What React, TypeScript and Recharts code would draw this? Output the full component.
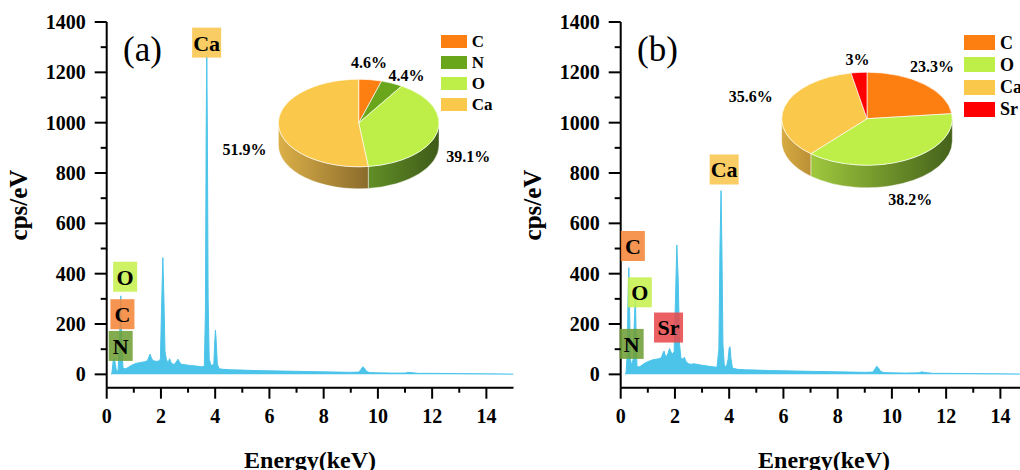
import React from 'react';
import { AreaChart, Area, XAxis, YAxis, ReferenceDot, PieChart, Pie, Legend } from 'recharts';

const FONT = "'Liberation Serif', 'Times New Roman', serif";

// ---------- spectrum (a) ----------
const energyA = [0.18, 0.2, 0.24, 0.28, 0.32, 0.36, 0.42, 0.47, 0.52, 0.56, 0.6, 0.7, 0.8, 0.9, 1.0, 1.1, 1.2, 1.3, 1.4, 1.5, 1.56, 1.6, 1.65, 1.7, 1.8, 1.9, 1.98, 2.02, 2.07, 2.11, 2.15, 2.2, 2.26, 2.32, 2.38, 2.45, 2.5, 2.58, 2.63, 2.68, 2.75, 2.9, 3.1, 3.3, 3.5, 3.6, 3.64, 3.67, 3.69, 3.71, 3.74, 3.78, 3.85, 3.95, 3.98, 4.01, 4.04, 4.08, 4.15, 4.3, 4.6, 5, 5.5, 6, 6.5, 7, 7.5, 8, 8.5, 9, 9.3, 9.38, 9.44, 9.5, 9.58, 9.7, 10, 10.5, 11, 11.15, 11.3, 11.5, 12, 13, 14, 15];
const cpsA = [0, 12, 55, 62, 40, 12, 15, 120, 312, 110, 25, 22, 28, 35, 40, 44, 46, 48, 50, 54, 70, 80, 65, 55, 52, 52, 60, 250, 464, 300, 90, 60, 45, 62, 45, 40, 40, 52, 60, 50, 40, 38, 35, 33, 30, 32, 250, 1000, 1265, 1000, 300, 60, 35, 40, 120, 176, 130, 40, 22, 20, 18, 17, 15, 14, 13, 12, 11, 10, 9, 8, 9, 20, 30, 25, 12, 7, 6, 5, 5, 8, 6, 4, 4, 3, 2, 1];

// ---------- spectrum (b) ----------
const energyB = [0.18, 0.2, 0.24, 0.27, 0.3, 0.33, 0.36, 0.4, 0.46, 0.5, 0.54, 0.57, 0.6, 0.7, 0.8, 0.9, 1.0, 1.1, 1.2, 1.3, 1.4, 1.5, 1.56, 1.6, 1.64, 1.7, 1.75, 1.8, 1.85, 1.9, 1.97, 2.02, 2.07, 2.12, 2.17, 2.22, 2.3, 2.35, 2.4, 2.5, 2.6, 2.7, 2.8, 3.0, 3.2, 3.4, 3.55, 3.62, 3.66, 3.7, 3.73, 3.77, 3.82, 3.9, 3.96, 4.0, 4.03, 4.07, 4.12, 4.3, 4.6, 5, 5.5, 6, 6.5, 7, 7.5, 8, 8.5, 9, 9.3, 9.38, 9.44, 9.5, 9.58, 9.7, 10, 10.5, 11, 11.1, 11.25, 11.5, 12, 13, 14, 15];
const cpsB = [0, 10, 80, 300, 424, 250, 60, 35, 60, 200, 320, 150, 30, 30, 38, 45, 50, 55, 58, 60, 62, 66, 85, 93, 75, 72, 85, 103, 90, 80, 90, 300, 514, 380, 120, 65, 60, 68, 52, 42, 40, 42, 40, 36, 33, 30, 28, 100, 500, 730, 520, 120, 35, 30, 60, 105, 110, 60, 25, 20, 18, 17, 15, 14, 13, 12, 11, 10, 9, 8, 9, 22, 32, 26, 12, 7, 6, 5, 6, 10, 7, 4, 4, 3, 2, 1];

// ---------- axis ticks ----------
const yTicks = [0, 100, 200, 300, 400, 500, 600, 700, 800, 900, 1000, 1100, 1200, 1300, 1400];
const xTicks = [0, 1, 2, 3, 4, 5, 6, 7, 8, 9, 10, 11, 12, 13, 14];

// ---------- peak annotations (energy, cps of box centre) ----------
const peakNamesA = ['Ca', 'O', 'C', 'N'];
const peakEnergyA = [3.685, 0.68, 0.58, 0.515];
const peakCpsA = [1318, 388, 239, 113];

const peakNamesB = ['C', 'O', 'Sr', 'N', 'Ca'];
const peakEnergyB = [0.448, 0.705, 1.764, 0.404, 3.815];
const peakCpsB = [510, 326, 186, 121, 814];

// ---------- pie composition ----------
const pieNamesA = ['C', 'N', 'O', 'Ca'];
const pieValuesA = [4.6, 4.4, 39.1, 51.9];
const pieNamesB = ['C', 'O', 'Ca', 'Sr'];
const pieValuesB = [23.3, 38.2, 35.6, 3];

const pieColor: Record<string, string> = { C: '#fd7f12', N: '#6aa61c', O: '#bdef48', Ca: '#fac94b', Sr: '#ff0000' };
const boxColor: Record<string, string> = { C: '#f5863a', N: '#6f9f36', O: '#c6f04e', Ca: '#f9c64e', Sr: '#e84a4c' };
const sideA: Record<string, [string, string]> = { Ca: ['#dcb048', '#8a6b2c'], O: ['#618f26', '#3f5b19'], C: ['#c05f10', '#7a3c08'], N: ['#4f7c14', '#33500c'] };
const sideB: Record<string, [string, string]> = { Ca: ['#d6aa42', '#bb9036'], O: ['#a0c83e', '#45621a'], C: ['#c05f10', '#7a3c08'], Sr: ['#b00000', '#700000'] };
// small label nudges (px) as in the original layout, which pushes crowded labels apart
const nudgeA: Record<string, [number, number]> = { C: [-5, -3], N: [4, 4.6], O: [2, -1], Ca: [-4, 0.6] };
const nudgeB: Record<string, [number, number]> = { Sr: [0, 1], C: [-12, -7], Ca: [-5, -6], O: [-10, 4.4] };

const SPEC = '#4cc4ea';
const RATIO = 0.545;

const YTick = (props: any) => {
  const { x, y, payload } = props;
  const v = payload.value;
  const major = v % 200 === 0;
  return (
    <g>
      <line x1={x - (major ? 12 : 6)} x2={x} y1={y} y2={y} stroke="#000" strokeWidth={2} />
      {major && (
        <text x={x - 21} y={y} dy="0.35em" textAnchor="end" fontFamily={FONT} fontWeight="bold" fontSize={20} fill="#000">
          {v}
        </text>
      )}
    </g>
  );
};

const XTick = (props: any) => {
  const { x, y, payload } = props;
  const v = payload.value;
  const major = v % 2 === 0;
  return (
    <g>
      <line x1={x} x2={x} y1={y} y2={y + (major ? 11 : 5)} stroke="#000" strokeWidth={2} />
      {major && (
        <text x={x} y={y + 35} textAnchor="middle" fontFamily={FONT} fontWeight="bold" fontSize={20} fill="#000">
          {v}
        </text>
      )}
    </g>
  );
};

const BoxLabel = (props: any) => {
  const { cx, cy, name } = props;
  const w = name.length === 1 ? 24 : 29;
  const h = 30;
  return (
    <g>
      <rect x={cx - w / 2} y={cy - h / 2} width={w} height={h} fill={boxColor[name]} fillOpacity={0.88} />
      <text x={cx} y={cy} dy="0.36em" textAnchor="middle" fontFamily={FONT} fontWeight="bold" fontSize={22} fill="#000">
        {name}
      </text>
    </g>
  );
};

const make3D = (ratio: number, depth: number, sides: Record<string, [string, string]>, pid: string) => (props: any) => {
  const { cx, cy, outerRadius: r, startAngle, endAngle, fill, payload } = props;
  const name = payload && payload.name ? payload.name : props.name;
  const ry = r * ratio;
  const P = (a: number, dy = 0) => [cx + r * Math.cos((a * Math.PI) / 180), cy - ry * Math.sin((a * Math.PI) / 180) + dy];
  const hi = Math.max(startAngle, endAngle);
  const lo = Math.min(startAngle, endAngle);
  const large = hi - lo > 180 ? 1 : 0;
  const [x1, y1] = P(hi);
  const [x2, y2] = P(lo);
  const top = `M${cx},${cy} L${x1},${y1} A${r},${ry} 0 ${large} 1 ${x2},${y2} Z`;
  const a = Math.max(lo, -180);
  const b = Math.min(hi, 0);
  let side: string | null = null;
  if (b > a) {
    const [bx, by] = P(b);
    const [ax, ay] = P(a);
    const lg = b - a > 180 ? 1 : 0;
    side = `M${bx},${by} A${r},${ry} 0 ${lg} 1 ${ax},${ay} L${ax},${ay + depth} A${r},${ry} 0 ${lg} 0 ${bx},${by + depth} Z`;
  }
  const gid = `side-${pid}-${name}`;
  const sc = sides[name] || ['#888', '#444'];
  return (
    <g>
      <defs>
        <linearGradient id={gid} x1="0" y1="0" x2="1" y2="0">
          <stop offset="0%" stopColor={sc[0]} />
          <stop offset="100%" stopColor={sc[1]} />
        </linearGradient>
      </defs>
      {side && <path d={side} fill={`url(#${gid})`} stroke="#ffffff" strokeWidth={0.6} strokeOpacity={0.7} />}
      <path d={top} fill={fill} stroke="#ffffff" strokeWidth={0.8} strokeOpacity={0.8} />
    </g>
  );
};

// label placed just outside the projected 3-D pie, along the slice's mid angle
const makePieLabel = (ratio: number, depth: number, nudge: Record<string, [number, number]>) => (props: any) => {
  const { cx, cy, midAngle, outerRadius, value, name, payload } = props;
  const nm = (payload && payload.name) || name;
  const rad = (midAngle * Math.PI) / 180;
  const c = Math.cos(rad);
  const s = Math.sin(rad);
  const text = `${value}%`;
  const halfW = text.length * 4.4;
  const bx = cx + outerRadius * c;
  const by = cy - outerRadius * ratio * s;
  const nd = nudge[nm] || [0, 0];
  const x = bx + c * (8 + halfW) + nd[0];
  const y = by - s * 14 + (s < 0 ? depth : 0) + nd[1];
  return (
    <text x={x} y={y} dy="0.35em" textAnchor="middle" fontFamily={FONT} fontWeight="bold" fontSize={16} fill="#000">
      {text}
    </text>
  );
};

const makeLegend = (names: string[], sw: number, sh: number, rowH: number, fs: number) => () => (
  <div style={{ display: 'flex', flexDirection: 'column' }}>
    {names.map((n) => (
      <div key={n} style={{ display: 'flex', alignItems: 'center', height: rowH }}>
        <span style={{ width: sw, height: sh, background: pieColor[n], display: 'inline-block', flex: 'none' }} />
        <span style={{ marginLeft: 5, fontFamily: FONT, fontWeight: 'bold', fontSize: fs, color: '#000', lineHeight: 1, whiteSpace: 'nowrap' }}>{n}</span>
      </div>
    ))}
  </div>
);

type PanelProps = {
  left: number;
  width: number;
  letter: string;
  energy: number[];
  cps: number[];
  peakNames: string[];
  peakEnergy: number[];
  peakCps: number[];
  pieNames: string[];
  pieValues: number[];
  pie: { cx: number; cy: number; r: number; depth: number };
  sides: Record<string, [string, string]>;
  nudge: Record<string, [number, number]>;
  legend: { left: number; top: number; sw: number; sh: number; rowH: number; fs: number };
};

const Panel = (p: PanelProps) => {
  const data = p.energy.map((e, i) => ({ e, v: p.cps[i] }));
  const pieData = p.pieNames.map((name, i) => ({ name, value: p.pieValues[i], fill: pieColor[name] }));
  const shape = make3D(RATIO, p.pie.depth, p.sides, p.letter);
  const H = 470;
  return (
    <div style={{ position: 'absolute', left: p.left, top: 0, width: p.width, height: H }}>
      <div style={{ position: 'absolute', left: 0, top: 0 }}>
        <AreaChart width={p.width} height={H} data={data} margin={{ top: 22, right: p.width - 513.5, left: 0, bottom: 0 }}>
          <XAxis
            dataKey="e"
            type="number"
            domain={[0, 15]}
            ticks={xTicks}
            interval={0}
            allowDataOverflow
            tickLine={false}
            tickSize={0}
            tickMargin={0}
            tick={<XTick />}
            axisLine={{ stroke: '#000', strokeWidth: 2 }}
            height={82.3}
            label={{
              content: (lp: any) => {
                const vb = lp.viewBox || {};
                return (
                  <text x={vb.x + vb.width / 2} y={468} textAnchor="middle" fontFamily={FONT} fontWeight="bold" fontSize={24} fill="#000">
                    Energy(keV)
                  </text>
                );
              },
            }}
          />
          <XAxis xAxisId="top" orientation="top" type="number" domain={[0, 15]} tick={false} tickLine={false} height={0} axisLine={{ stroke: '#000', strokeWidth: 2 }} />
          <YAxis
            type="number"
            domain={[-53, 1400]}
            ticks={yTicks}
            interval={0}
            allowDataOverflow
            tickLine={false}
            tickSize={0}
            tickMargin={0}
            tick={<YTick />}
            axisLine={{ stroke: '#000', strokeWidth: 2 }}
            width={106.7}
            label={{
              content: () => (
                <text x={27} y={205} transform="rotate(-90, 27, 205)" textAnchor="middle" fontFamily={FONT} fontWeight="bold" fontSize={25} fill="#000">
                  cps/eV
                </text>
              ),
            }}
          />
          <YAxis yAxisId="right" orientation="right" type="number" domain={[-53, 1400]} tick={false} tickLine={false} width={0} axisLine={{ stroke: '#000', strokeWidth: 2 }} />
          <Area type="linear" dataKey="v" stroke={SPEC} strokeWidth={1} fill={SPEC} fillOpacity={1} isAnimationActive={false} dot={false} activeDot={false} />
          {p.peakNames.map((n, i) => (
            <ReferenceDot key={n} x={p.peakEnergy[i]} y={p.peakCps[i]} r={0} ifOverflow="visible" shape={(sp: any) => <BoxLabel {...sp} name={n} />} />
          ))}
        </AreaChart>
      </div>
      <div style={{ position: 'absolute', left: 0, top: 0 }}>
        <PieChart width={p.width} height={H} margin={{ top: 0, right: 0, bottom: 0, left: 0 }}>
          <Pie
            data={pieData}
            dataKey="value"
            nameKey="name"
            cx={p.pie.cx}
            cy={p.pie.cy}
            outerRadius={p.pie.r}
            startAngle={90}
            endAngle={-270}
            isAnimationActive={false}
            shape={shape}
            activeShape={shape}
            inactiveShape={shape}
            labelLine={false}
            label={makePieLabel(RATIO, p.pie.depth, p.nudge)}
          />
          <Legend
            layout="vertical"
            align="right"
            verticalAlign="top"
            wrapperStyle={{ position: 'absolute', left: p.legend.left, top: p.legend.top, width: 80 }}
            content={makeLegend(p.pieNames, p.legend.sw, p.legend.sh, p.legend.rowH, p.legend.fs)}
          />
        </PieChart>
      </div>
      <div style={{ position: 'absolute', left: 123, top: 32, fontFamily: FONT, fontSize: 35, lineHeight: 1, color: '#000' }}>({p.letter})</div>
    </div>
  );
};

export default function App() {
  return (
    <div style={{ position: 'absolute', left: 0, top: 0, width: 1020, height: 470, overflow: 'hidden', background: '#fff' }}>
      <Panel
        left={0}
        width={520}
        letter="a"
        energy={energyA}
        cps={cpsA}
        peakNames={peakNamesA}
        peakEnergy={peakEnergyA}
        peakCps={peakCpsA}
        pieNames={pieNamesA}
        pieValues={pieValuesA}
        pie={{ cx: 358.7, cy: 123, r: 80.3, depth: 22 }}
        sides={sideA}
        nudge={nudgeA}
        legend={{ left: 440.7, top: 30.4, sw: 26, sh: 13, rowH: 21.3, fs: 17 }}
      />
      <Panel
        left={514}
        width={521.5}
        letter="b"
        energy={energyB}
        cps={cpsB}
        peakNames={peakNamesB}
        peakEnergy={peakEnergyB}
        peakCps={peakCpsB}
        pieNames={pieNamesB}
        pieValues={pieValuesB}
        pie={{ cx: 353, cy: 118.7, r: 85.3, depth: 22.5 }}
        sides={sideB}
        nudge={nudgeB}
        legend={{ left: 450, top: 31.6, sw: 31, sh: 15, rowH: 22.2, fs: 18 }}
      />
    </div>
  );
}
